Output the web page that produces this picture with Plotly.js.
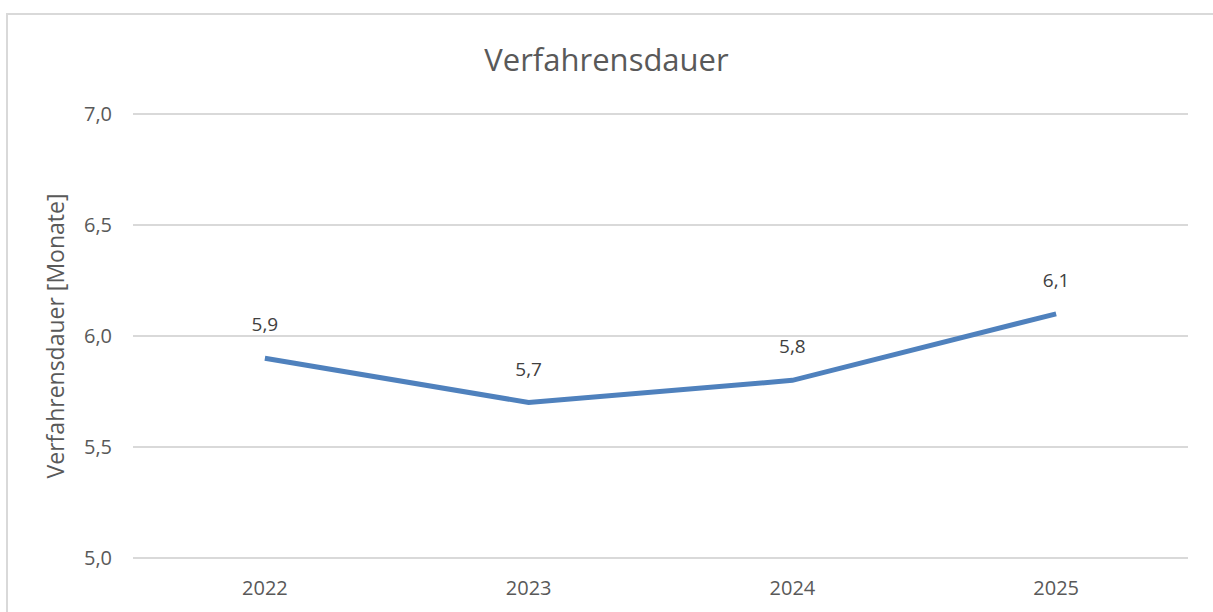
<!DOCTYPE html>
<html>
<head>
<meta charset="utf-8">
<script src="https://cdn.plot.ly/plotly-3.0.1.min.js"></script>
<style>
html,body{margin:0;padding:0;background:#fff;overflow:hidden;}
#frame{position:absolute;left:6px;top:13px;width:1400px;height:800px;border-left:2px solid #d9d9d9;border-top:2px solid #d9d9d9;pointer-events:none;z-index:5;}
#chart{position:absolute;left:0;top:0;width:1213px;height:612px;}
</style>
</head>
<body>
<div id="chart"></div>
<div id="frame"></div>
<script>
const years = ['2022', '2023', '2024', '2025'];
const dauer = [5.9, 5.7, 5.8, 6.1];
const labels = ['5,9', '5,7', '5,8', '6,1'];
const yTicks = [5.0, 5.5, 6.0, 6.5, 7.0];
const yTickText = ['5,0', '5,5', '6,0', '6,5', '7,0'];

const font = '"Open Sans", "Liberation Sans", sans-serif';

const trace = {
  x: years,
  y: dauer,
  type: 'scatter',
  mode: 'lines',
  line: {color: '#4f81bd', width: 5},
  hoverinfo: 'skip'
};

const labelTrace = {
  x: years,
  y: dauer,
  type: 'scatter',
  mode: 'markers+text',
  marker: {size: 34, color: 'rgba(0,0,0,0)', line: {width: 0}},
  text: labels,
  textposition: 'top center',
  textfont: {family: font, size: 19, color: '#404040'},
  hoverinfo: 'skip',
  cliponaxis: false
};

const layout = {
  width: 1213, height: 612,
  margin: {l: 133, r: 25, t: 112, b: 52},
  paper_bgcolor: '#ffffff', plot_bgcolor: '#ffffff',
  separators: ',.',
  showlegend: false,
  title: {text: 'Verfahrensdauer', x: 0.5, xanchor: 'center', y: 0.902, yanchor: 'middle',
          font: {family: font, size: 31, color: '#595959'}},
  xaxis: {
    type: 'category', range: [-0.5, 3.5],
    showline: false, showgrid: false, zeroline: false, ticks: '',
    tickfont: {family: font, size: 20, color: '#595959'}, ticklabelstandoff: 14
  },
  yaxis: {
    range: [4.99, 7.01], tickvals: yTicks, ticktext: yTickText,
    showline: false, zeroline: false, showgrid: true, gridcolor: '#d9d9d9', gridwidth: 1.5,
    ticks: '', tickfont: {family: font, size: 20, color: '#595959'}, ticklabelstandoff: 20,
    title: {text: 'Verfahrensdauer [Monate]', standoff: 12, font: {family: font, size: 23, color: '#595959'}}
  }
};

Plotly.newPlot('chart', [trace, labelTrace], layout, {displayModeBar: false, staticPlot: true});
</script>
</body>
</html>
